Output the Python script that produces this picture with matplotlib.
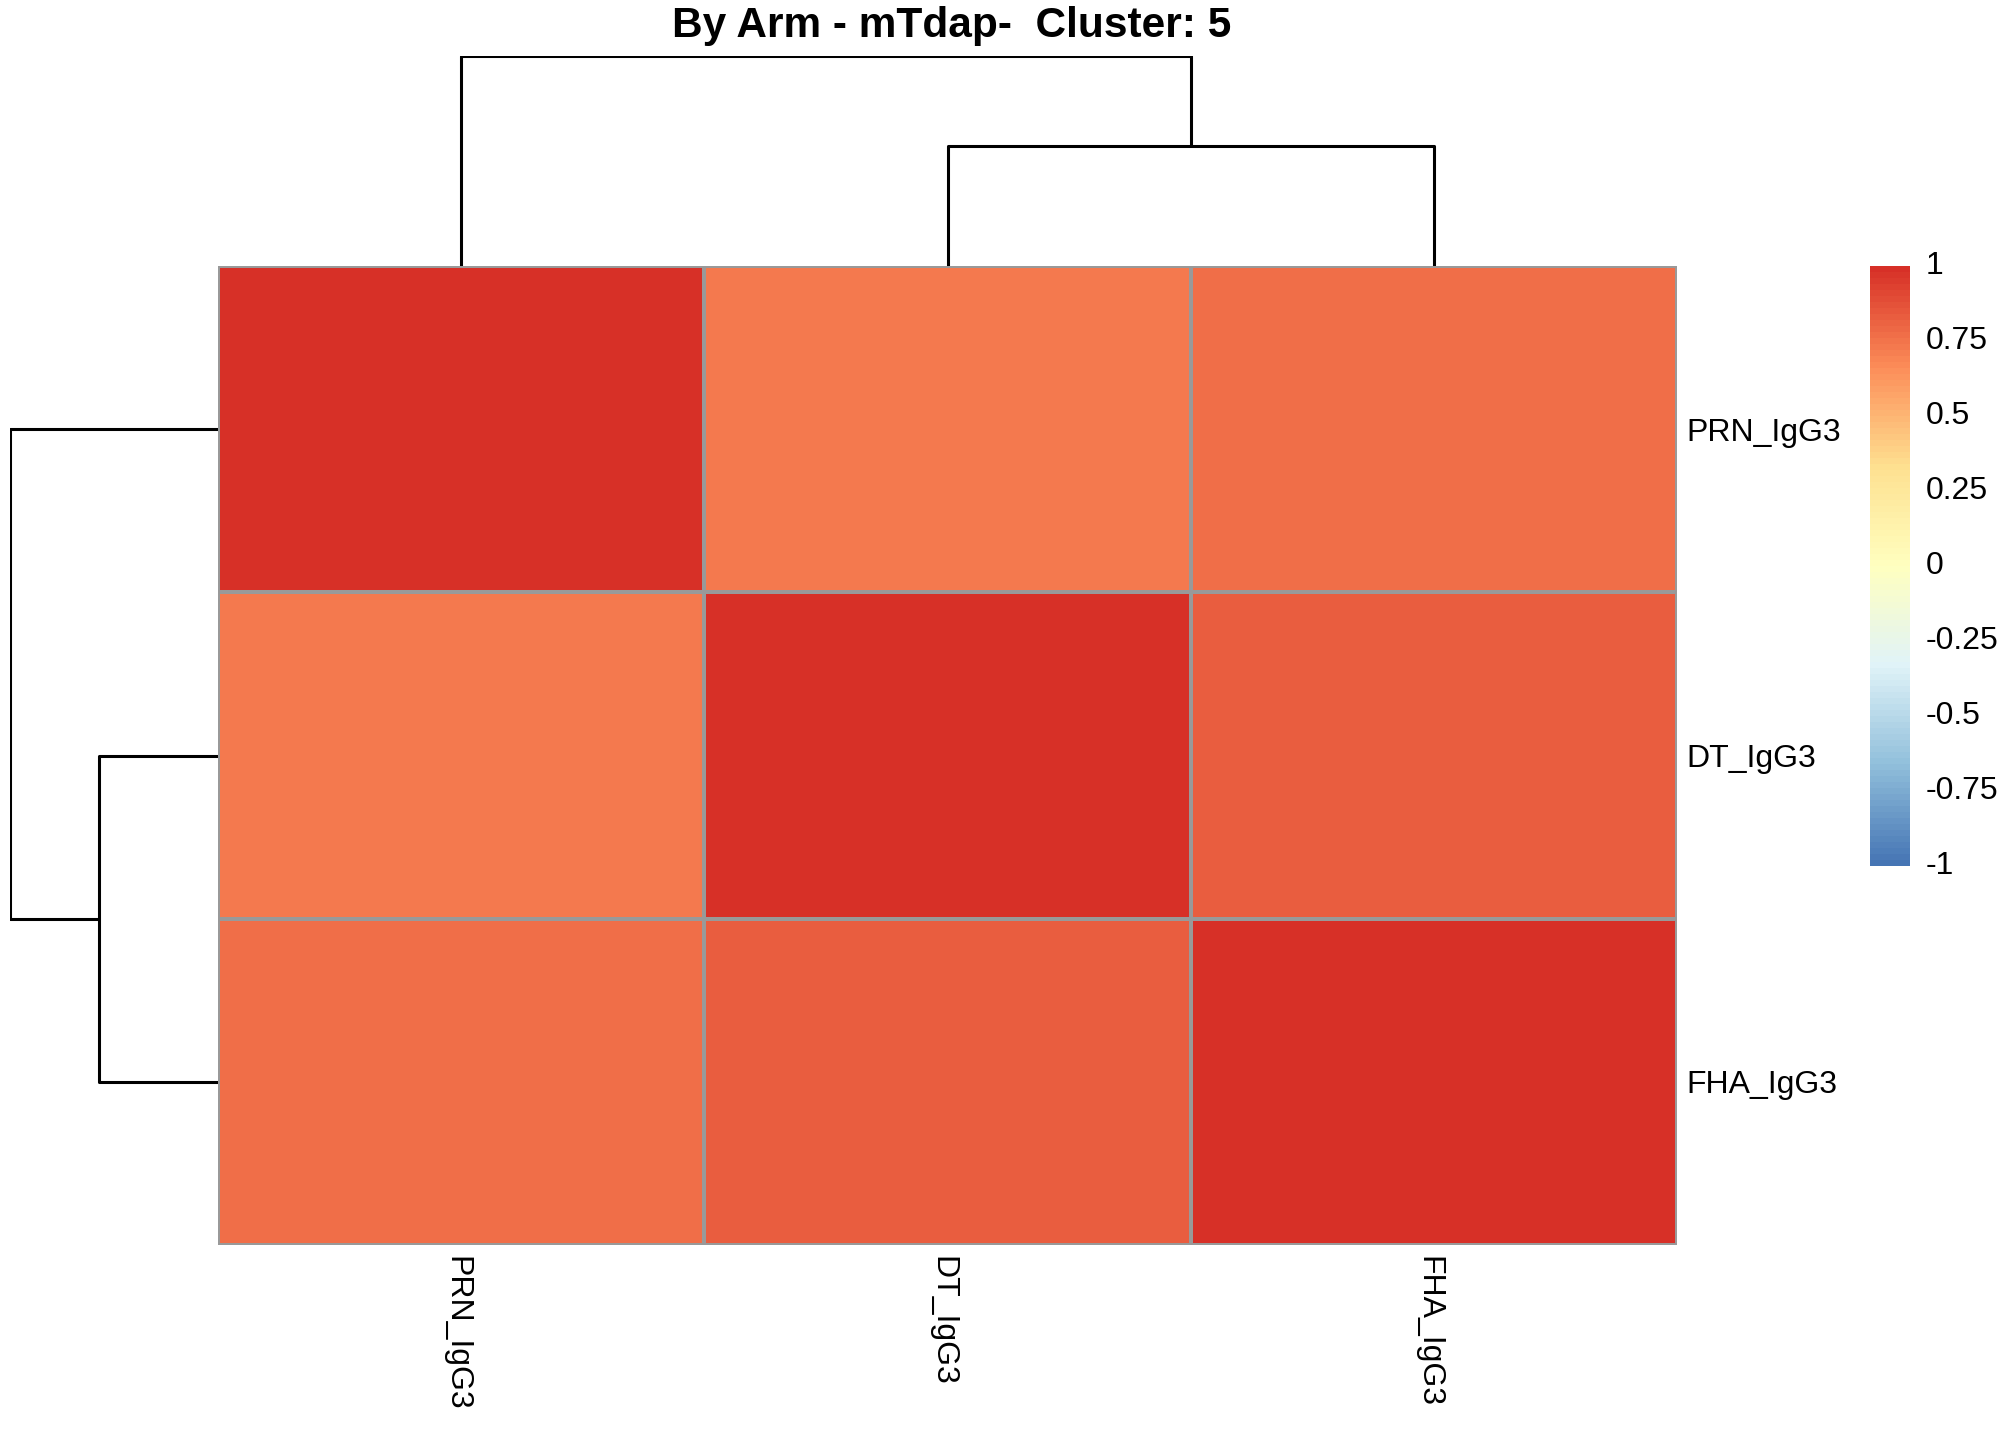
import numpy as np
import matplotlib
matplotlib.use("Agg")
import matplotlib.pyplot as plt
import matplotlib.transforms as mtransforms
from matplotlib.colors import LinearSegmentedColormap, Normalize
from matplotlib.cm import ScalarMappable

plt.rcParams['font.family'] = ['Liberation Sans', 'DejaVu Sans']

# ---- data ----
title = "By Arm - mTdap-  Cluster: 5"
row_labels = ["PRN_IgG3", "DT_IgG3", "FHA_IgG3"]
col_labels = ["PRN_IgG3", "DT_IgG3", "FHA_IgG3"]
values = np.array([
    [1.00, 0.73, 0.76],
    [0.73, 1.00, 0.835],
    [0.76, 0.835, 1.00],
])
# dendrogram merge heights: (DT,FHA) first, then PRN joins
merge_low = 0.16
merge_high = 0.28
cbar_ticks = [1, 0.75, 0.5, 0.25, 0, -0.25, -0.5, -0.75, -1]
cbar_ticklabels = ["1", "0.75", "0.5", "0.25", "0", "-0.25", "-0.5", "-0.75", "-1"]

palette = ["#4575B4", "#91BFDB", "#E0F3F8", "#FFFFBF", "#FEE090", "#FC8D59", "#D73027"]
cmap = LinearSegmentedColormap.from_list("rdylbu_r", palette, N=100)
norm = Normalize(vmin=-1, vmax=1)

W, H = 2016, 1440
fig = plt.figure(figsize=(W / 100, H / 100), dpi=100)

def px_axes(x0, y0, x1, y1):
    return fig.add_axes([x0 / W, 1 - y1 / H, (x1 - x0) / W, (y1 - y0) / H])

hm_l, hm_r, hm_t, hm_b = 218, 1677, 266, 1245

# heatmap
ax = px_axes(hm_l, hm_t, hm_r, hm_b)
n = len(row_labels)
ax.pcolormesh(np.arange(n + 1), np.arange(n + 1), values, cmap=cmap, norm=norm,
              edgecolors="#999999", linewidth=1.6)
ax.set_xlim(0, n)
ax.set_ylim(n, 0)
for s in ax.spines.values():
    s.set_visible(False)
ax.yaxis.tick_right()
ax.set_yticks(np.arange(n) + 0.5)
ax.set_yticklabels(row_labels, fontsize=23)
ax.set_xticks(np.arange(n) + 0.5)
ax.set_xticklabels(col_labels, fontsize=23, rotation=270, va="top", ha="center")
ax.tick_params(axis="y", length=0, pad=7)
ax.tick_params(axis="x", length=0, pad=8)
shift = mtransforms.ScaledTranslation(-5 / 100, 0, fig.dpi_scale_trans)
for lab in ax.get_xticklabels():
    lab.set_transform(lab.get_transform() + shift)

# column dendrogram
lw = 2.2
axc = px_axes(hm_l, 56, hm_r, hm_t)
axc.set_xlim(0, n)
axc.set_ylim(0, merge_high)
xs = np.arange(n) + 0.5
mid = (xs[1] + xs[2]) / 2
axc.plot([xs[1], xs[1], xs[2], xs[2]], [0, merge_low, merge_low, 0], color="black", lw=lw, solid_capstyle="butt")
axc.plot([xs[0], xs[0], mid, mid], [0, merge_high, merge_high, merge_low], color="black", lw=lw, solid_capstyle="butt")
axc.axis("off")

# row dendrogram
axr = px_axes(10, hm_t, hm_l, hm_b)
axr.set_ylim(n, 0)
axr.set_xlim(merge_high, 0)
axr.plot([0, merge_low, merge_low, 0], [xs[1], xs[1], xs[2], xs[2]], color="black", lw=lw, solid_capstyle="butt")
axr.plot([0, merge_high, merge_high, merge_low], [xs[0], xs[0], mid, mid], color="black", lw=lw, solid_capstyle="butt")
axr.axis("off")

# colorbar
axcb = px_axes(1870, 266, 1910, 866)
sm = ScalarMappable(norm=norm, cmap=cmap)
cb = fig.colorbar(sm, cax=axcb, ticks=cbar_ticks)
cb.set_ticklabels(cbar_ticklabels)
cb.outline.set_visible(False)
axcb.tick_params(length=0, labelsize=23, pad=11)
for t in axcb.get_yticklabels():
    t.set_va("center")

fig.text(952 / W, 1 - 26 / H, title, ha="center", va="center", fontsize=30.5, fontweight="bold")

fig.savefig("out.png", dpi=100)
